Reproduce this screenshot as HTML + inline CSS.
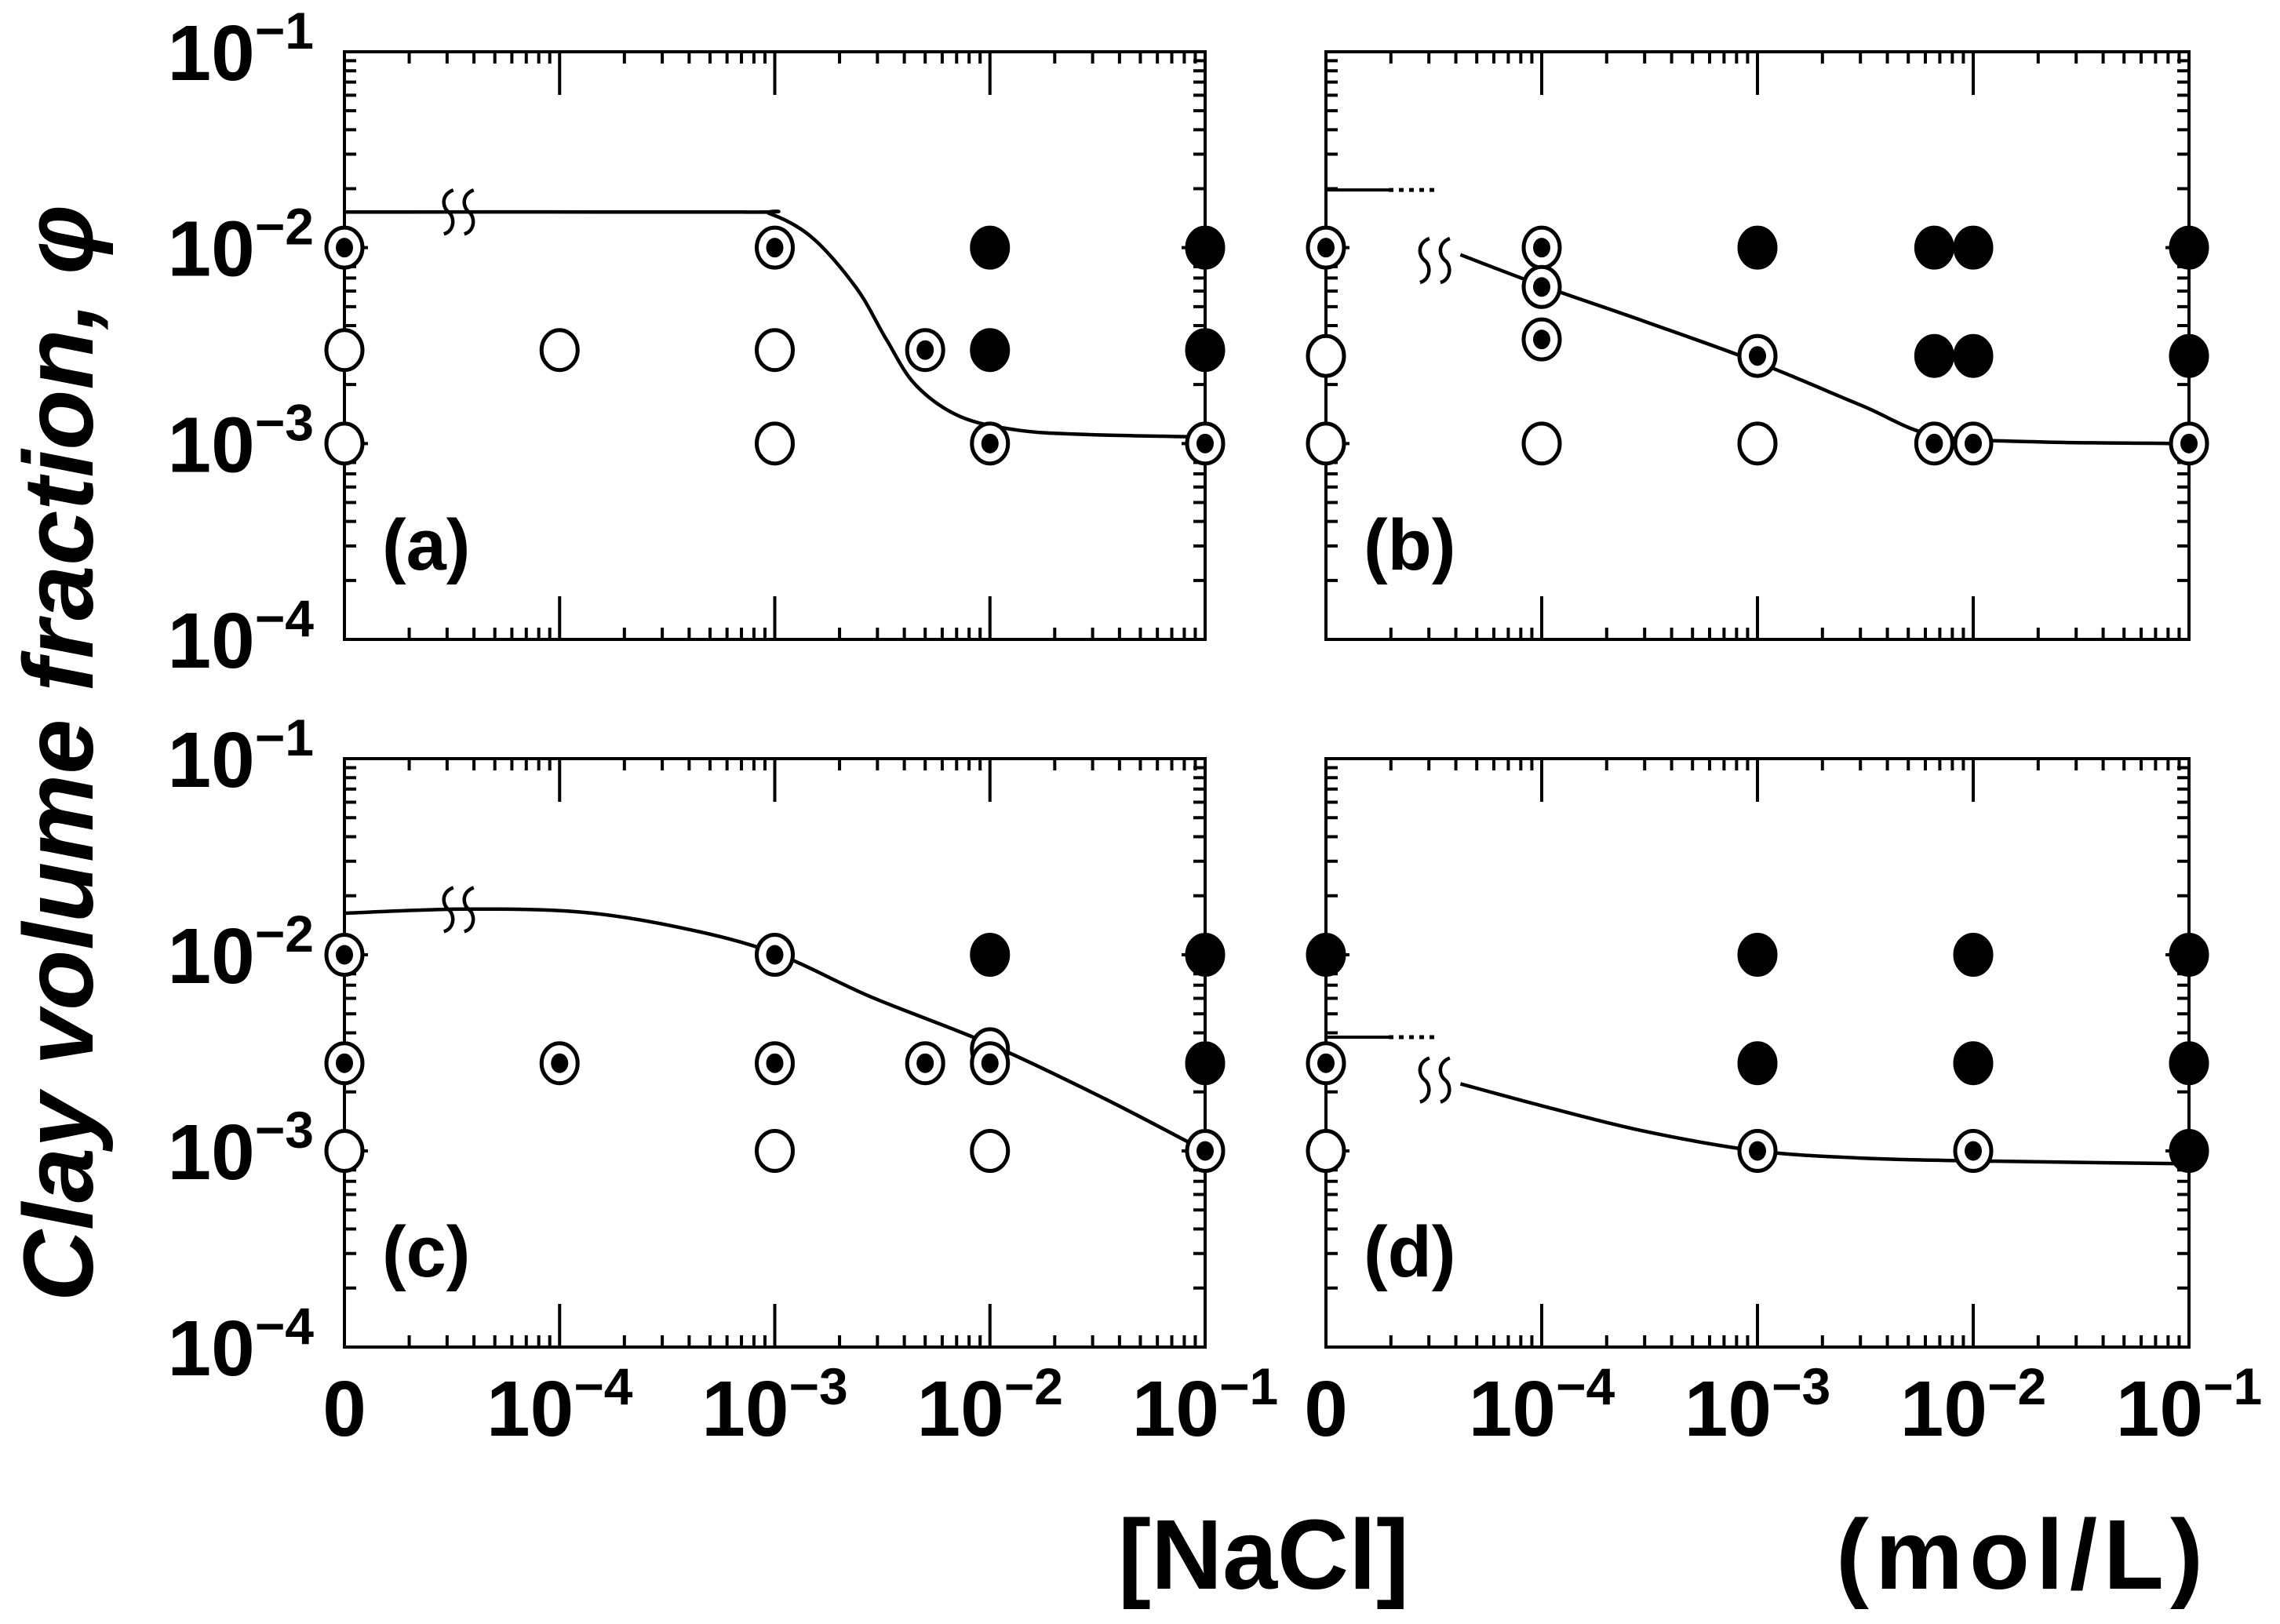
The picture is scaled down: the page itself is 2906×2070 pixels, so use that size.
<!DOCTYPE html>
<html><head><meta charset="utf-8">
<style>
html,body{margin:0;padding:0;background:#fff;}
svg{display:block;}
text{font-family:"Liberation Sans",sans-serif;font-weight:bold;fill:#000;}
</style></head>
<body>
<svg id="fig" width="2906" height="2070" viewBox="0 0 2906 2070" xmlns="http://www.w3.org/2000/svg">
<text transform="translate(118,960) rotate(-90)" text-anchor="middle" font-size="126" font-style="italic">Clay volume fraction, φ</text>
<text x="1425" y="2025" font-size="126">[NaCl]</text>
<text x="2340" y="2025" font-size="126" letter-spacing="8">(mol/L)</text>
</svg>
<script>
// ---- data (x = 0 means "no salt") ----
const aX = [0,0,0,1e-4,1e-3,1e-3,1e-3,5e-3,1e-2,1e-2,1e-2,1e-1,1e-1,1e-1];
const aY = [1e-2,3e-3,1e-3,3e-3,1e-2,3e-3,1e-3,3e-3,1e-2,3e-3,1e-3,1e-2,3e-3,1e-3];
const aT = ['d','o','o','o','d','o','o','d','f','f','d','f','f','d'];
const aCurveX = [1e-5,7e-4,9.5e-4,1.5e-3,2.4e-3,3.3e-3,4.5e-3,7.2e-3,1.35e-2,2.9e-2,1e-1];
const aCurveY = [0.0152,0.0152,0.0149,0.0112,6.2e-3,3.4e-3,2.0e-3,1.38e-3,1.17e-3,1.11e-3,1.08e-3];

const bX = [0,0,0,1e-4,1e-4,1e-4,1e-4,1e-3,1e-3,1e-3,6.6e-3,6.6e-3,6.6e-3,1e-2,1e-2,1e-2,1e-1,1e-1,1e-1];
const bY = [1e-2,2.8e-3,1e-3,1e-2,6.3e-3,3.4e-3,1e-3,1e-2,2.8e-3,1e-3,1e-2,2.8e-3,1e-3,1e-2,2.8e-3,1e-3,1e-2,2.8e-3,1e-3];
const bT = ['d','o','o','d','d','d','o','f','d','o','f','f','d','f','f','d','f','f','d'];
const bCurveX = [4.2e-5,1e-4,3e-4,1e-3,3.05e-3,6.6e-3,2e-2,1e-1];
const bCurveY = [9.2e-3,6.4e-3,4.2e-3,2.6e-3,1.56e-3,1.1e-3,1.02e-3,1.0e-3];
const bStubY = 1.97e-2;

const cX = [0,0,0,1e-4,1e-3,1e-3,1e-3,5e-3,1e-2,1e-2,1e-2,1e-2,1e-1,1e-1,1e-1];
const cY = [1e-2,2.8e-3,1e-3,2.8e-3,1e-2,2.8e-3,1e-3,2.8e-3,1e-2,3.3e-3,2.8e-3,1e-3,1e-2,2.8e-3,1e-3];
const cT = ['d','d','o','d','d','d','o','d','f','o','d','o','f','f','d'];
const cCurveX = [1e-5,3.6e-5,1.26e-4,3.7e-4,1e-3,2.8e-3,1e-2,3.4e-2,1e-1];
const cCurveY = [1.63e-2,1.71e-2,1.65e-2,1.37e-2,1.02e-2,6.1e-3,3.5e-3,1.85e-3,1.0e-3];

const dX = [0,0,0,1e-3,1e-3,1e-3,1e-2,1e-2,1e-2,1e-1,1e-1,1e-1];
const dY = [1e-2,2.8e-3,1e-3,1e-2,2.8e-3,1e-3,1e-2,2.8e-3,1e-3,1e-2,2.8e-3,1e-3];
const dT = ['f','d','o','f','f','d','f','f','d','f','f','f'];
const dCurveX = [4.2e-5,1e-4,3e-4,1e-3,3e-3,1e-2,1e-1];
const dCurveY = [2.2e-3,1.7e-3,1.26e-3,1e-3,9.2e-4,8.9e-4,8.6e-4];
const dStubY = 3.8e-3;

const yTickLabels = ['-1','-2','-3','-4'];
const xTickLabels = ['0','-4','-3','-2','-1'];

const NS = 'http://www.w3.org/2000/svg';
const svg = document.getElementById('fig');
function mk(tag, attrs, parent){
  const e = document.createElementNS(NS, tag);
  for (const k in attrs) e.setAttribute(k, attrs[k]);
  (parent||svg).appendChild(e);
  return e;
}

function smooth(pts){
  let d = 'M' + pts[0][0].toFixed(1) + ',' + pts[0][1].toFixed(1);
  for (let i = 0; i < pts.length - 1; i++) {
    const p0 = pts[Math.max(0, i-1)], p1 = pts[i], p2 = pts[i+1], p3 = pts[Math.min(pts.length-1, i+2)];
    const c1x = p1[0] + (p2[0]-p0[0])/6, c1y = p1[1] + (p2[1]-p0[1])/6;
    const c2x = p2[0] - (p3[0]-p1[0])/6, c2y = p2[1] - (p3[1]-p1[1])/6;
    d += `C${c1x.toFixed(1)},${c1y.toFixed(1)} ${c2x.toFixed(1)},${c2y.toFixed(1)} ${p2[0].toFixed(1)},${p2[1].toFixed(1)}`;
  }
  return d;
}

function panel(id, L, R, T, B, X, Y, TY, cx, cy, stubY, breakX, breakY, label, showY, showX){
  const g = mk('g', {});
  
  
  const xs = v => { const lv = (v <= 0) ? -5 : Math.log10(v); return L + (lv + 5) / 4 * (R - L); };
  const ys = v => T + (-1 - Math.log10(v)) / 3 * (B - T);

  const fr = mk('rect', {x:L, y:T, width:R-L, height:B-T, fill:'none', stroke:'#000', 'stroke-width':4}, g);
  
  
  let tp = '';
  for (let d = -5; d <= -1; d++) {
    const x = L + (d + 5) / 4 * (R - L);
    tp += `M${x},${T}v55M${x},${B}v-55`;
    if (d < -1) for (let m = 2; m <= 9; m++) {
      const xm = L + (d + Math.log10(m) + 5) / 4 * (R - L);
      tp += `M${xm},${T}v15M${xm},${B}v-15`;
    }
  }
  for (let d = -4; d <= -1; d++) {
    const y = T + (-1 - d) / 3 * (B - T);
    tp += `M${L},${y}h30M${R},${y}h-30`;
    if (d > -4) for (let m = 2; m <= 9; m++) {
      const ym = T + (-1 - (d - 1 + Math.log10(m))) / 3 * (B - T);
      tp += `M${L},${ym}h15M${R},${ym}h-15`;
    }
  }
  const tk = mk('path', {d:tp, stroke:'#000', 'stroke-width':4, fill:'none'}, g);
  
  

  if (showY) {
    yTickLabels.forEach((s, i) => {
      const y = T + i / 3 * (B - T);
      const t = mk('text', {x:400, y:y+36, 'text-anchor':'end', 'font-size':100}, g);
      
      
      const a = mk('tspan', {}, t); a.textContent = '10';
      const b = mk('tspan', {dy:-40, 'font-size':66}, t); b.textContent = '\u2212' + s.slice(1);
    });
  }
  if (showX) {
    xTickLabels.forEach((s, i) => {
      const x = L + i / 4 * (R - L);
      const t = mk('text', {x:x, y:1830, 'text-anchor':'middle', 'font-size':100}, g);
      
      
      if (s === '0') { t.textContent = '0'; }
      else {
        const a = mk('tspan', {}, t); a.textContent = '10';
        const b = mk('tspan', {dy:-40, 'font-size':66}, t); b.textContent = '\u2212' + s.slice(1);
      }
    });
  }

  if (stubY) {
    const y = ys(stubY);
    const s1 = mk('path', {d:`M${L},${y}H${L+80}`, stroke:'#000', 'stroke-width':4}, g);
    
    
    const s2 = mk('path', {d:`M${L+80},${y}H${L+145}`, stroke:'#000', 'stroke-width':5, 'stroke-dasharray':'6,7'}, g);
    
    
  }

  const pts = cx.map((v, i) => [xs(v), ys(cy[i])]);
  const cv = mk('path', {d:smooth(pts), stroke:'#000', 'stroke-width':4.5, fill:'none', 'stroke-linejoin':'round'}, g);
  
  

  const bx = xs(breakX), by = ys(breakY);
  let bd = '';
  [-13, 13].forEach(o => {
    const x = bx + o;
    bd += `M${x+6},${by-28}C${x-10},${by-22} ${x-8},${by-6} ${x},${by}S${x+8},${by+24} ${x-6},${by+28}`;
  });
  const bm = mk('path', {d:bd, stroke:'#000', 'stroke-width':4.5, fill:'none'}, g);
  
  

  X.forEach((v, i) => {
    const x = xs(v), y = ys(Y[i]), t = TY[i];
    const mg = mk('g', {}, g);
    
    
    mk('ellipse', {cx:x, cy:y, rx:23, ry:25.5, fill: t === 'f' ? '#000' : '#fff', stroke:'#000', 'stroke-width':5}, mg);
    if (t === 'd') mk('ellipse', {cx:x, cy:y, rx:11, ry:12.5, fill:'#000'}, mg);
  });

  const lb = mk('text', {x:L+48, y: T+660, 'font-size':92}, g);
  
  
  lb.textContent = '(' + label + ')';
}

panel('a', 439, 1536, 66, 815, aX, aY, aT, aCurveX, aCurveY, null, 3.4e-5, 0.0152, 'a', true, false);
panel('b', 1690, 2790, 66, 815, bX, bY, bT, bCurveX, bCurveY, bStubY, 3.2e-5, 8.6e-3, 'b', false, false);
panel('c', 439, 1536, 967, 1717, cX, cY, cT, cCurveX, cCurveY, null, 3.4e-5, 1.7e-2, 'c', true, true);
panel('d', 1690, 2790, 967, 1717, dX, dY, dT, dCurveX, dCurveY, dStubY, 3.2e-5, 2.3e-3, 'd', false, true);
</script>
</body></html>
